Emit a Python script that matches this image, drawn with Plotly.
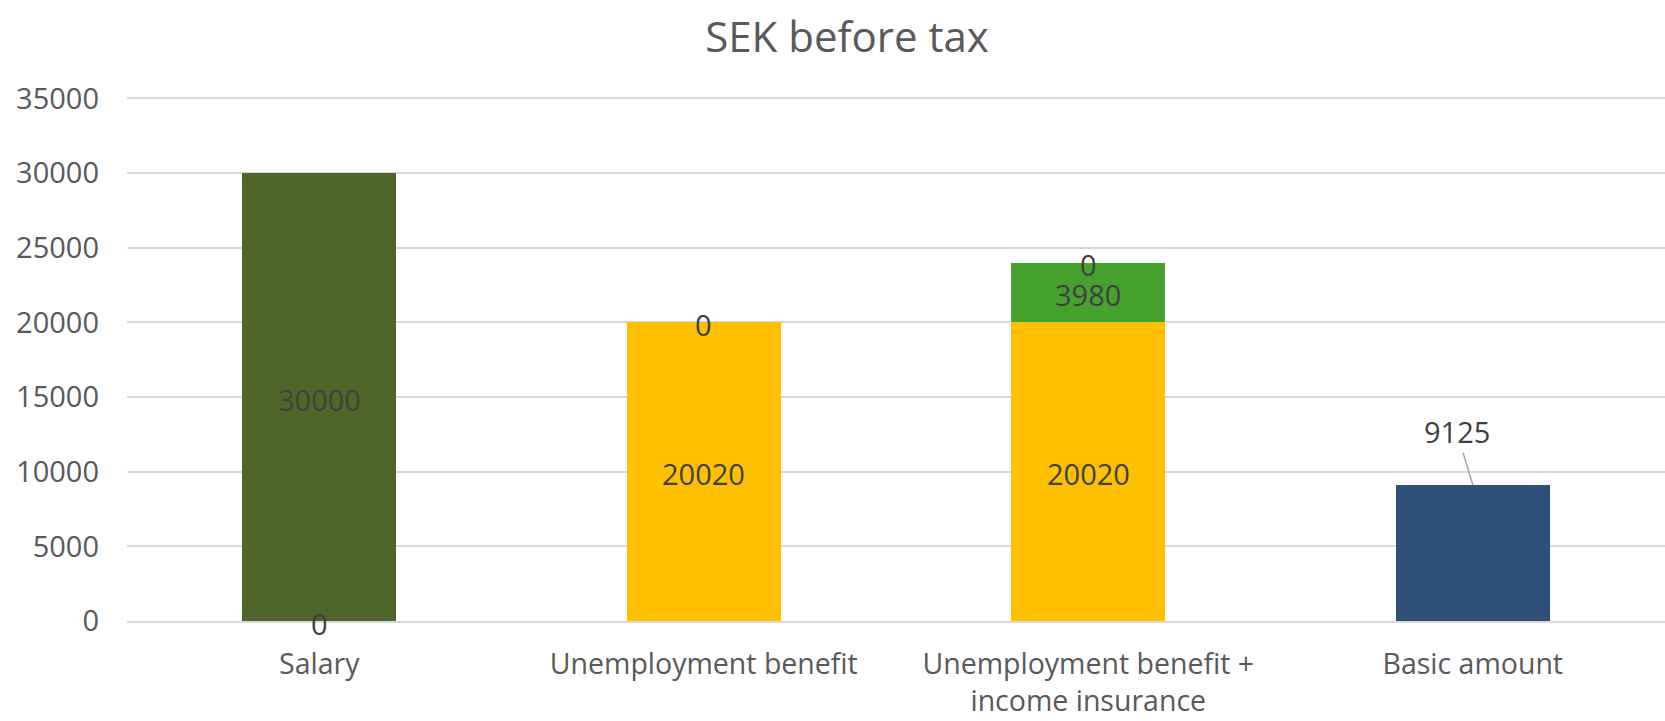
import plotly.graph_objects as go

categories = ["Salary", "Unemployment benefit", "Unemployment benefit +<br>income insurance", "Basic amount"]
series_names = ["Unemployment benefit", "Salary", "Income insurance", "Basic amount"]
unemployment = [0, 20020, 20020, None]
salary = [30000, None, None, None]
insurance = [None, 0, 3980, None]
basic = [None, None, 0, 9125]
colors = ["#FFC000", "#4E6629", "#46A12E", "#2E5078"]
y_ticks = [0, 5000, 10000, 15000, 20000, 25000, 30000, 35000]

series = [unemployment, salary, insurance, basic]
FONT = "Open Sans"
LABEL_FONT = dict(family=FONT, size=29, color="#404040")

fig = go.Figure()
for name, vals, col in zip(series_names, series, colors):
    fig.add_trace(go.Bar(x=categories, y=vals, name=name, marker=dict(color=col, line=dict(width=0)),
                         hoverinfo="skip"))

# data labels centred on each segment (leader-line label for last bar handled separately)
base = [0.0] * len(categories)
for si, vals in enumerate(series):
    for ci, v in enumerate(vals):
        if v is None:
            continue
        if not (si == 3 and ci == 3):
            fig.add_annotation(x=categories[ci], y=base[ci] + v / 2, text=str(v),
                               showarrow=False, yshift=-2, font=LABEL_FONT)
        base[ci] += v

fig.add_annotation(x=categories[3], y=basic[3], text=str(basic[3]), showarrow=True,
                   arrowhead=0, arrowwidth=1.5, arrowcolor="#A6A6A6", ax=-16, ay=-53,
                   font=LABEL_FONT)

fig.update_layout(
    width=1665, height=721,
    margin=dict(l=127, r=0, t=94, b=100),
    paper_bgcolor="white", plot_bgcolor="white",
    barmode="stack", bargap=0.6, showlegend=False,
    title=dict(text="SEK before tax", x=847 / 1665, xref="container", xanchor="center",
               y=1 - 37 / 721, yref="container", yanchor="middle",
               font=dict(family=FONT, size=42, color="#595959")),
    font=dict(family=FONT, color="#595959"),
)
fig.update_yaxes(range=[0, 35300], tickvals=y_ticks, ticktext=[str(t) for t in y_ticks],
                 showgrid=True, gridcolor="#D9D9D9", gridwidth=1.5,
                 zeroline=False, showline=False, ticks="", ticklabelstandoff=27,
                 tickfont=dict(family=FONT, size=29, color="#595959"))
fig.update_xaxes(showline=True, linecolor="#D9D9D9", linewidth=1.5, ticks="",
                 ticklabelstandoff=17,
                 tickfont=dict(family=FONT, size=28.5, color="#595959"))

fig.write_html("out.html")
